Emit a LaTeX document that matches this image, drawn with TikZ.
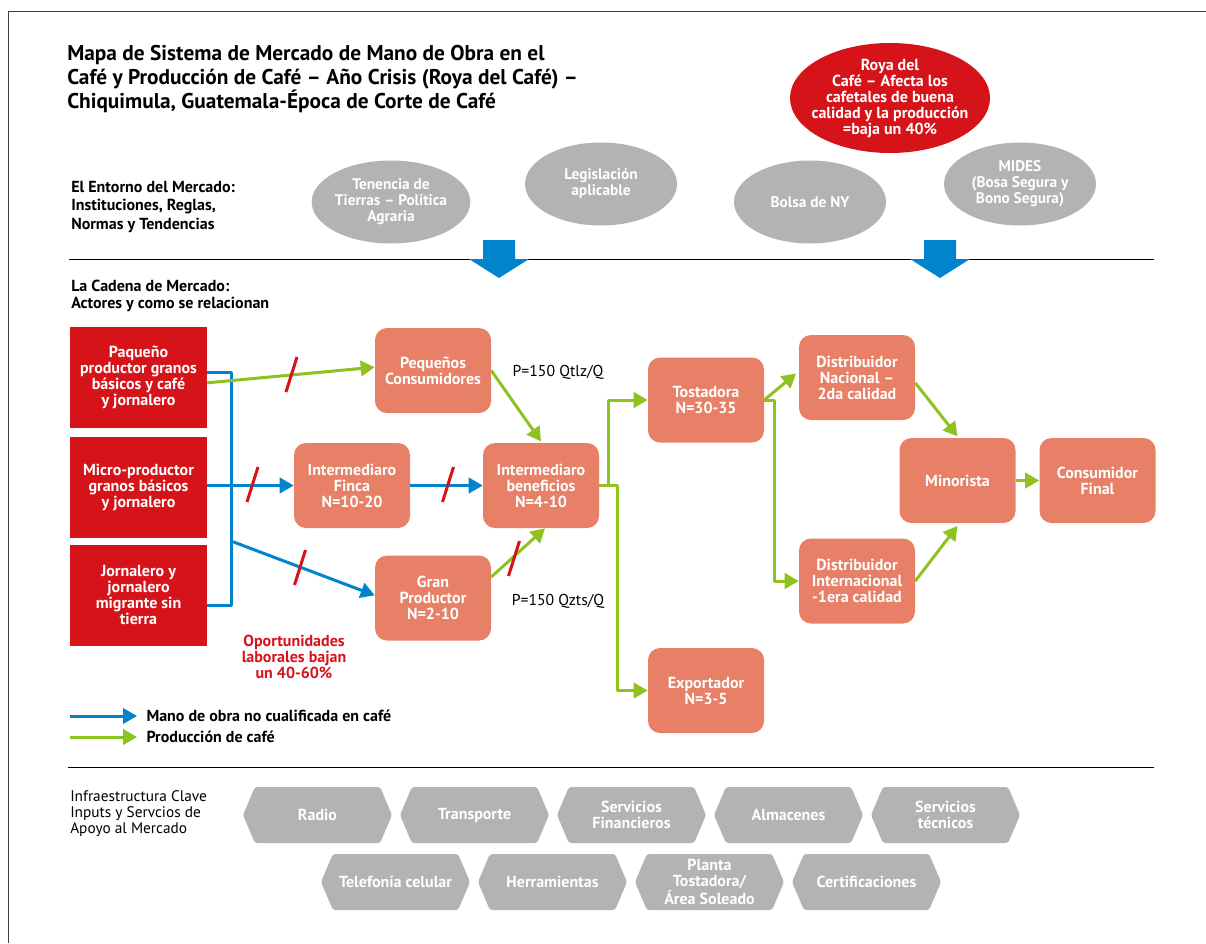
\documentclass[tikz,border=0pt]{standalone}
\usepackage{fontspec}
\setmainfont{PT Sans}
\usepackage{tikz}
\usetikzlibrary{shapes.geometric,shapes.symbols,arrows.meta}
\definecolor{RedBox}{RGB}{215,19,26}
\definecolor{Salmon}{RGB}{231,128,102}
\definecolor{GrayBox}{RGB}{179,179,179}
\definecolor{FlowBlue}{RGB}{0,132,204}
\definecolor{FlowGreen}{RGB}{141,194,31}
\newcommand{\SmallBold}{\bfseries\fontsize{12}{12}\selectfont}
\newcommand{\CutMark}[1]{\draw[cut] (#1) ++(5.5,-17.5) -- ++(-11,35);}
\newcommand{\DownArrow}[1]{\fill[FlowBlue] (#1,278) -- ++(-30,-19) -- ++(14,0) -- ++(0,-19)
  -- ++(32,0) -- ++(0,19) -- ++(14,0) -- cycle;}
\tikzset{
  actor/.style={rectangle,rounded corners=9pt,fill=Salmon,text=white,font=\SmallBold,
    align=center,minimum width=87pt,minimum height=63.75pt,inner sep=0pt},
  producer/.style={rectangle,fill=RedBox,text=white,font=\SmallBold,align=center,
    minimum width=102.75pt,minimum height=75.75pt,inner sep=0pt},
  envbubble/.style={ellipse,fill=GrayBox,text=white,font=\bfseries\fontsize{11.5}{12}\selectfont,
    align=center,minimum width=114pt,minimum height=62.25pt,inner sep=0pt},
  support/.style={signal,signal to=west and east,signal pointer angle=134,fill=GrayBox,
    text=white,font=\SmallBold,align=center,minimum width=111.75pt,minimum height=42pt,
    inner sep=0pt,rounded corners=2pt},
  labour/.style={draw=FlowBlue,line width=2.25pt},
  produce/.style={draw=FlowGreen,line width=2.25pt},
  flowtip/.style={-{Triangle[length=10.5pt,width=11.5pt]}},
  cut/.style={draw=RedBox,line width=2.25pt},
  sectiontext/.style={anchor=west,align=left,inner sep=0pt},
}

\begin{document}
\begin{tikzpicture}[line join=round,x=0.75pt,y=-0.75pt]
  \useasboundingbox (0,0) rectangle (1206,943);
  \draw[black!75,line width=0.75pt] (1206,11) -- (8,11) -- (8,943);

  % title and section labels
  \node[sectiontext,font=\bfseries\fontsize{16}{18}\selectfont] (title) at (67,79)
    {Mapa de Sistema de Mercado de Mano de Obra en el\\
     Café y Producción de Café – Año Crisis (Roya del Café) –\\
     Chiquimula, Guatemala-Época de Corte de Café};
  \node[sectiontext,font=\bfseries\fontsize{12}{14}\selectfont] (entorno) at (71,207)
    {El Entorno del Mercado:\\Instituciones, Reglas,\\Normas y Tendencias};
  \node[sectiontext,font=\bfseries\fontsize{12}{12.75}\selectfont] (cadena) at (71,296)
    {La Cadena de Mercado:\\Actores y como se relacionan};
  \node[sectiontext,font=\fontsize{11.5}{12}\selectfont] (infra) at (70,814)
    {Infraestructura Clave\\Inputs y Servcios de\\Apoyo al Mercado};

  % environment
  \node[envbubble] (tenencia) at (391,202) {Tenencia de\\Tierras – Política\\Agraria};
  \node[envbubble] (legis) at (601,184) {Legislación\\aplicable};
  \node[envbubble] (bolsa) at (810,202) {Bolsa de NY};
  \node[envbubble] (mides) at (1020,184) {MIDES\\(Bosa Segura y\\Bono Segura)};
  \node[envbubble,fill=RedBox,font=\SmallBold,inner xsep=-7pt,inner ysep=-1pt,
    minimum width=150pt,minimum height=82.5pt] (roya) at (890,98)
    {Roya del\\Café – Afecta los\\cafetales de buena\\calidad y la producción\\=baja un 40\%};

  \draw[line width=0.75pt] (69,259) -- (1154,259);
  \draw[line width=0.75pt] (68,767) -- (1154,767);
  \DownArrow{499}
  \DownArrow{940}

  % market chain
  \node[producer] (prod1) at (138.5,377.5) {Paqueño\\productor granos\\básicos y café\\y jornalero};
  \node[producer] (prod2) at (138.5,487) {Micro-productor\\granos básicos\\y jornalero};
  \node[producer] (prod3) at (138.5,595.5) {Jornalero y\\jornalero\\migrante sin\\tierra};

  \node[actor] (pequenos) at (433,370.5) {Pequeños\\Consumidores};
  \node[actor] (finca) at (352,485.5) {Intermediaro\\Finca\\N=10-20};
  \node[actor] (benef) at (541,485.5) {Intermediaro\\beneficios\\N=4-10};
  \node[actor] (gran) at (433,598) {Gran\\Productor\\N=2-10};
  \node[actor] (tost) at (706,400) {Tostadora\\N=30-35};
  \node[actor] (export) at (706,690.5) {Exportador\\N=3-5};
  \node[actor] (distnac) at (857,377.5) {Distribuidor\\Nacional –\\2da calidad};
  \node[actor] (distint) at (857,581) {Distribuidor\\Internacional\\-1era calidad};
  \node[actor] (minor) at (957.5,480.5) {Minorista};
  \node[actor] (consum) at (1097.5,480.5) {Consumidor\\Final};

  \node[font=\fontsize{11.8}{12}\selectfont] (precio1) at (558,372) {P=150 Qtlz/Q};
  \node[font=\fontsize{11.8}{12}\selectfont] (precio2) at (558,601) {P=150 Qzts/Q};
  \node[font=\SmallBold,text=RedBox,align=center] (oport) at (294,657)
    {Oportunidades\\laborales bajan\\un 40-60\%};

  % labour flows
  \coordinate (btop) at (231,372);
  \coordinate (bbot) at (231,605);
  \draw[labour] (prod1.east |- btop) -- (btop) -- (bbot) -- (prod3.east |- bbot);
  \draw[labour,flowtip] (prod2.east |- finca.west) -- (finca.west);
  \draw[labour,flowtip] (231,541) -- ([yshift=2pt]gran.west);
  \draw[labour,flowtip] (finca.east) -- (benef.west);

  % coffee flows
  \draw[produce,flowtip] ([yshift=-4pt]prod1.east) -- ([yshift=2.5pt]pequenos.west);
  \draw[produce,flowtip] (pequenos.east) -- ([yshift=1pt]benef.north);
  \draw[produce,flowtip] ([yshift=15.75pt]gran.east) -- ([xshift=3pt]benef.south);
  \draw[produce,flowtip] (benef.east) -- ++(9,0) |- (tost.west);
  \draw[produce,flowtip] (benef.east) -- ++(18,0) |- (export.west);
  \draw[produce,flowtip] (tost.east) -- ([yshift=3pt,xshift=-2pt]distnac.west);
  \draw[produce,flowtip] (tost.east) -- ++(10,0) |- (distint.west);
  \draw[produce,flowtip] ([yshift=-4pt]distnac.east) -- ([yshift=1pt]minor.north);
  \draw[produce,flowtip] (distint.east) -- ([yshift=-2pt]minor.south);
  \draw[produce,flowtip] (minor.east) -- (consum.west);

  \CutMark{291.5,374.5}
  \CutMark{252.5,484.5}
  \CutMark{448,484.5}
  \CutMark{300,567.5}
  \CutMark{514,558.5}

  % legend
  \coordinate (lgb) at (70,716);
  \coordinate (lgg) at (70,737);
  \draw[labour,flowtip] (lgb) -- ++(67,0) node[right=6pt,text=black,font=\bfseries\fontsize{12}{12}\selectfont,inner sep=0pt] (lgbtext) {Mano de obra no cualificada en café};
  \draw[produce,flowtip] (lgg) -- ++(67,0) node[right=6pt,text=black,font=\bfseries\fontsize{12}{12}\selectfont,inner sep=0pt] (lggtext) {Producción de café};

  % supporting services
  \node[support] (radio) at (317.5,815) {Radio};
  \node[support] (transp) at (474.5,815) {Transporte};
  \node[support] (financ) at (631.5,815) {Servicios\\Financieros};
  \node[support] (almac) at (788.5,815) {Almacenes};
  \node[support] (tecnic) at (945.5,815) {Servicios\\técnicos};
  \node[support] (telef) at (395.5,882) {Telefonía celular};
  \node[support] (herram) at (552.5,882) {Herramientas};
  \node[support] (planta) at (709.5,882) {Planta\\Tostadora/\\Área Soleado};
  \node[support] (certif) at (866.5,882) {Certificaciones};
\end{tikzpicture}
\end{document}
